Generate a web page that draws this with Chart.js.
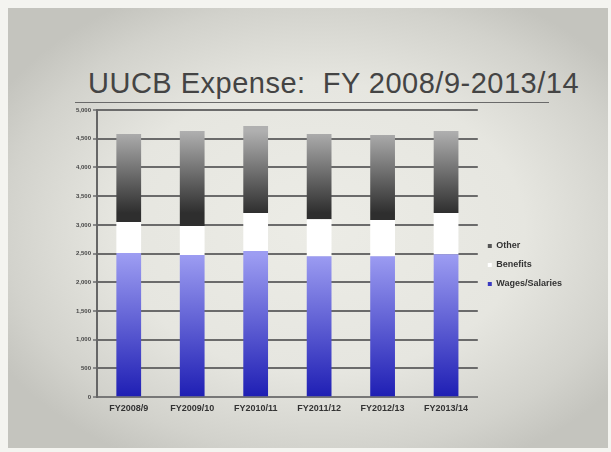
<!DOCTYPE html>
<html>
<head>
<meta charset="utf-8">
<script src="https://cdn.jsdelivr.net/npm/chart.js@4"></script>
<style>
  html, body { margin:0; padding:0; }
  body {
    width:611px; height:452px; overflow:hidden; position:relative;
    background:#f4f4f0;
  }
  #slide {
    position:absolute; left:8px; top:8px; width:600px; height:440px;
    background: radial-gradient(ellipse 62% 60% at 52% 50%, #ecece6 0%, #e6e6e0 55%, #d2d2cc 85%, #c4c4be 100%);
  }
  #title {
    position:absolute; left:88px; top:67px; white-space:nowrap;
    font-family:"Liberation Sans", Arial, sans-serif; font-size:29px;
    color:#444; letter-spacing:0.5px;
  }
  #rule { position:absolute; left:75px; top:102px; width:474px; height:1px; background:#6a6a6a; }
  #wrap { position:absolute; left:62px; top:104px; width:510px; height:316px; }
</style>
</head>
<body>
<div id="slide"></div>
<div id="title">UUCB Expense:&nbsp; FY 2008/9-2013/14</div>
<div id="rule"></div>
<div id="wrap"><canvas id="c"></canvas></div>
<script>
const categories = ["FY2008/9", "FY2009/10", "FY2010/11", "FY2011/12", "FY2012/13", "FY2013/14"];
const wagesSalaries = [2510, 2475, 2545, 2455, 2455, 2490];
const benefits = [540, 505, 660, 645, 630, 715];
const other = [1530, 1655, 1515, 1480, 1480, 1430];
const yTicks = [0, 500, 1000, 1500, 2000, 2500, 3000, 3500, 4000, 4500, 5000];

const gradients = {
  0: ["#9d9df2", "#1f1fb4"],
  2: ["#b0b0b0", "#2e2e2e"],
};

const gradientPlugin = {
  id: "barGradients",
  beforeDatasetsDraw(chart) {
    const ctx = chart.ctx;
    chart.data.datasets.forEach((ds, di) => {
      const g = gradients[di];
      if (!g) return;
      chart.getDatasetMeta(di).data.forEach(el => {
        const top = Math.min(el.y, el.base), bot = Math.max(el.y, el.base);
        const grad = ctx.createLinearGradient(0, top, 0, bot);
        grad.addColorStop(0, g[0]);
        grad.addColorStop(1, g[1]);
        el.options.backgroundColor = grad;
      });
    });
  }
};

new Chart(document.getElementById("c"), {
  type: "bar",
  data: {
    labels: categories,
    datasets: [
      { label: "Wages/Salaries", data: wagesSalaries, backgroundColor: "#3a3ac0" },
      { label: "Benefits", data: benefits, backgroundColor: "#ffffff" },
      { label: "Other", data: other, backgroundColor: "#555555" }
    ]
  },
  plugins: [gradientPlugin],
  options: {
    responsive: true,
    maintainAspectRatio: false,
    animation: false,
    layout: { padding: { left: 0, right: 0, top: 6, bottom: 0 } },
    datasets: { bar: { categoryPercentage: 1.0, barPercentage: 0.39, borderWidth: 0 } },
    plugins: {
      tooltip: { enabled: false },
      legend: {
        position: "right",
        reverse: true,
        labels: {
          boxWidth: 4, boxHeight: 4, padding: 10,
          color: "#333",
          font: { family: "Liberation Sans", size: 9, weight: "bold" }
        }
      }
    },
    scales: {
      x: {
        stacked: true,
        grid: { display: false, drawTicks: false },
        border: { color: "#777", width: 2 },
        ticks: { color: "#333", padding: 6, font: { family: "Liberation Sans", size: 9, weight: "bold" }, maxRotation: 0 }
      },
      y: {
        stacked: true,
        min: 0, max: 5000,
        afterBuildTicks(axis) { axis.ticks = yTicks.map(v => ({ value: v })); },
        afterFit(axis) { axis.width = 35; },
        grid: { color: "#6b6b6b", lineWidth: 2, tickLength: 4, tickColor: "#888" },
        border: { color: "#666", width: 2 },
        ticks: {
          color: "#444", padding: 2,
          font: { family: "Liberation Sans", size: 6, weight: "bold" },
          callback: v => v.toLocaleString("en-US")
        }
      }
    }
  }
});
</script>
</body>
</html>
